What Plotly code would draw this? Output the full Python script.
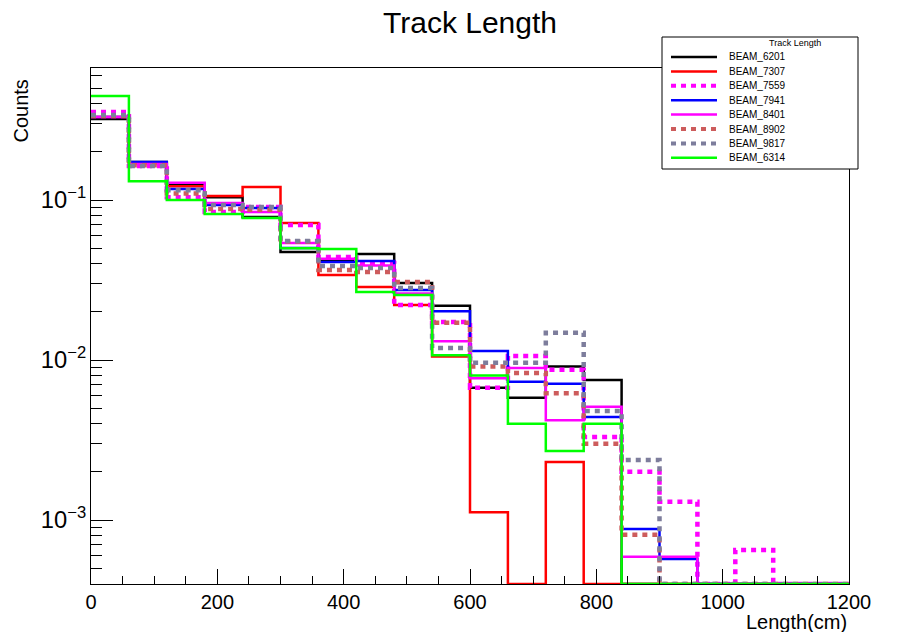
import plotly.graph_objects as go

# ---------------- data ----------------
bin_edges = list(range(0, 1201, 60))  # Length (cm)
series_names = ["BEAM_6201", "BEAM_7307", "BEAM_7559", "BEAM_7941",
                "BEAM_8401", "BEAM_8902", "BEAM_9817", "BEAM_6314"]

beam_6201 = [0.321, 0.173, 0.126, 0.104, 0.0783, 0.0473, 0.042, 0.046, 0.0303, 0.0218,
             0.0067, 0.0058, 0.0091, 0.0075, 0, 0, 0, 0, 0, 0]
beam_7307 = [0.33, 0.17, 0.122, 0.106, 0.1205, 0.0718, 0.034, 0.0286, 0.0221, 0.0105,
             0.00112, 0, 0.0023, 0, 0, 0, 0, 0, 0, 0]
beam_7559 = [0.355, 0.163, 0.104, 0.0841, 0.0904, 0.0698, 0.044, 0.0404, 0.0221, 0.0173,
             0.0067, 0.0106, 0.0087, 0.0033, 0.0020, 0.0013, 0, 0.00065, 0, 0]
beam_7941 = [0.33, 0.173, 0.117, 0.093, 0.0891, 0.0501, 0.041, 0.0416, 0.0274, 0.0202,
             0.0114, 0.0073, 0.0071, 0.0044, 0.00088, 0.00057, 0, 0, 0, 0]
beam_8401 = [0.33, 0.168, 0.128, 0.0958, 0.0841, 0.0539, 0.043, 0.039, 0.026, 0.0131,
             0.0077, 0.0089, 0.0042, 0.0051, 0.00059, 0.00059, 0, 0, 0, 0]
beam_8902 = [0.335, 0.165, 0.11, 0.088, 0.087, 0.055, 0.0365, 0.0355, 0.0307, 0.0171,
             0.0091, 0.0083, 0.0062, 0.0030, 0.00081, 0, 0, 0, 0, 0]
beam_9817 = [0.34, 0.163, 0.115, 0.093, 0.0904, 0.0554, 0.0387, 0.0376, 0.0282, 0.0119,
             0.0096, 0.0096, 0.0148, 0.0048, 0.00237, 0, 0, 0, 0, 0]
beam_6314 = [0.447, 0.131, 0.1, 0.0818, 0.0772, 0.05, 0.0494, 0.0266, 0.0255, 0.0107,
             0.0080, 0.0040, 0.0027, 0.0040, 0, 0, 0, 0, 0, 0]

all_values = [beam_6201, beam_7307, beam_7559, beam_7941,
              beam_8401, beam_8902, beam_9817, beam_6314]

# ---------------- styles ----------------
styles = [
    dict(color="#000000", width=2.5, dash="solid"),
    dict(color="#ff0000", width=2.5, dash="solid"),
    dict(color="#ff00ff", width=4.5, dash="5px,5px"),
    dict(color="#0000ff", width=2.5, dash="solid"),
    dict(color="#ff00ff", width=2.5, dash="solid"),
    dict(color="#cd5c5c", width=4.5, dash="5px,5px"),
    dict(color="#7d7d9c", width=4.5, dash="5px,5px"),
    dict(color="#00ff00", width=2.5, dash="solid"),
]

W, H = 922, 632
L, R, T, B = 91, 849, 68, 584
LOG_MIN, LOG_MAX = -3.4, -0.175
floor_val = 10 ** LOG_MIN  # empty bins are drawn on the axis floor (as ROOT does)

fig = go.Figure()
for name, vals, st in zip(series_names, all_values, styles):
    y = [max(v, floor_val) for v in vals]
    y = y + [y[-1]]
    fig.add_trace(go.Scatter(
        x=bin_edges, y=y, mode="lines", name=name,
        line=dict(shape="hv", color=st["color"], width=st["width"], dash=st["dash"]),
        showlegend=False, hoverinfo="skip"))

def px(xp):
    return (xp - L) / (R - L)

def py(yp):
    return (B - yp) / (B - T)

FONT = "Liberation Sans, Arial, Helvetica, sans-serif"

shapes = []
annotations = []
# legend box
shapes.append(dict(type="rect", xref="paper", yref="paper",
                   x0=px(662), x1=px(858), y0=py(169), y1=py(37),
                   line=dict(color="black", width=1), fillcolor="white", layer="above"))
annotations.append(dict(xref="paper", yref="paper", x=px(795), y=py(43),
                        text="Track Length", showarrow=False,
                        font=dict(family=FONT, size=9, color="black"),
                        xanchor="center", yanchor="middle"))
entry_y0, entry_dy = 57, 14.4
for i, (name, st) in enumerate(zip(series_names, styles)):
    yy = entry_y0 + i * entry_dy
    shapes.append(dict(type="line", xref="paper", yref="paper",
                       x0=px(671), x1=px(717), y0=py(yy), y1=py(yy),
                       line=dict(color=st["color"], width=st["width"] - 0.5 if st["dash"] != "solid" else 2.5,
                                 dash=st["dash"]),
                       layer="above"))
    annotations.append(dict(xref="paper", yref="paper", x=px(727), y=py(yy),
                            text=name, showarrow=False,
                            font=dict(family=FONT, size=10, color="black"),
                            xanchor="left", yanchor="middle"))

# axis titles
annotations.append(dict(xref="paper", yref="paper", x=px(20), y=py(78),
                        text="Counts", textangle=-90, showarrow=False,
                        font=dict(family=FONT, size=20, color="black"),
                        xanchor="center", yanchor="top"))
annotations.append(dict(xref="paper", yref="paper", x=1.0, y=py(622),
                        text="Length(cm)", showarrow=False,
                        font=dict(family=FONT, size=20, color="black"),
                        xanchor="right", yanchor="middle"))

fig.update_layout(
    width=W, height=H,
    margin=dict(l=L, r=W - R, t=T, b=H - B, pad=0),
    paper_bgcolor="white", plot_bgcolor="white",
    title=dict(text="Track Length", x=0.5, xref="paper", xanchor="center",
               y=1 - 22 / H, yref="container", yanchor="middle",
               font=dict(family=FONT, size=30, color="black")),
    showlegend=False,
    shapes=shapes, annotations=annotations,
    font=dict(family=FONT, color="black"),
)
fig.update_xaxes(
    range=[0, 1200], showgrid=False, zeroline=False,
    showline=True, linecolor="black", linewidth=1, mirror=True,
    ticks="inside", ticklen=15, tickcolor="black", tickwidth=1,
    dtick=200, tick0=0,
    tickfont=dict(family=FONT, size=20, color="black"),
    minor=dict(ticks="inside", ticklen=8, dtick=50, tick0=0, tickcolor="black", showgrid=False),
)
fig.update_yaxes(
    type="log", range=[LOG_MIN, LOG_MAX], showgrid=False, zeroline=False,
    showline=True, linecolor="black", linewidth=1, mirror=True,
    ticks="inside", ticklen=22, tickcolor="black", tickwidth=1,
    dtick=1, exponentformat="power",
    tickfont=dict(family=FONT, size=19, color="black"),
    minor=dict(ticks="inside", ticklen=11, dtick="D1", tickcolor="black", showgrid=False),
)

fig.write_html("out.html")
